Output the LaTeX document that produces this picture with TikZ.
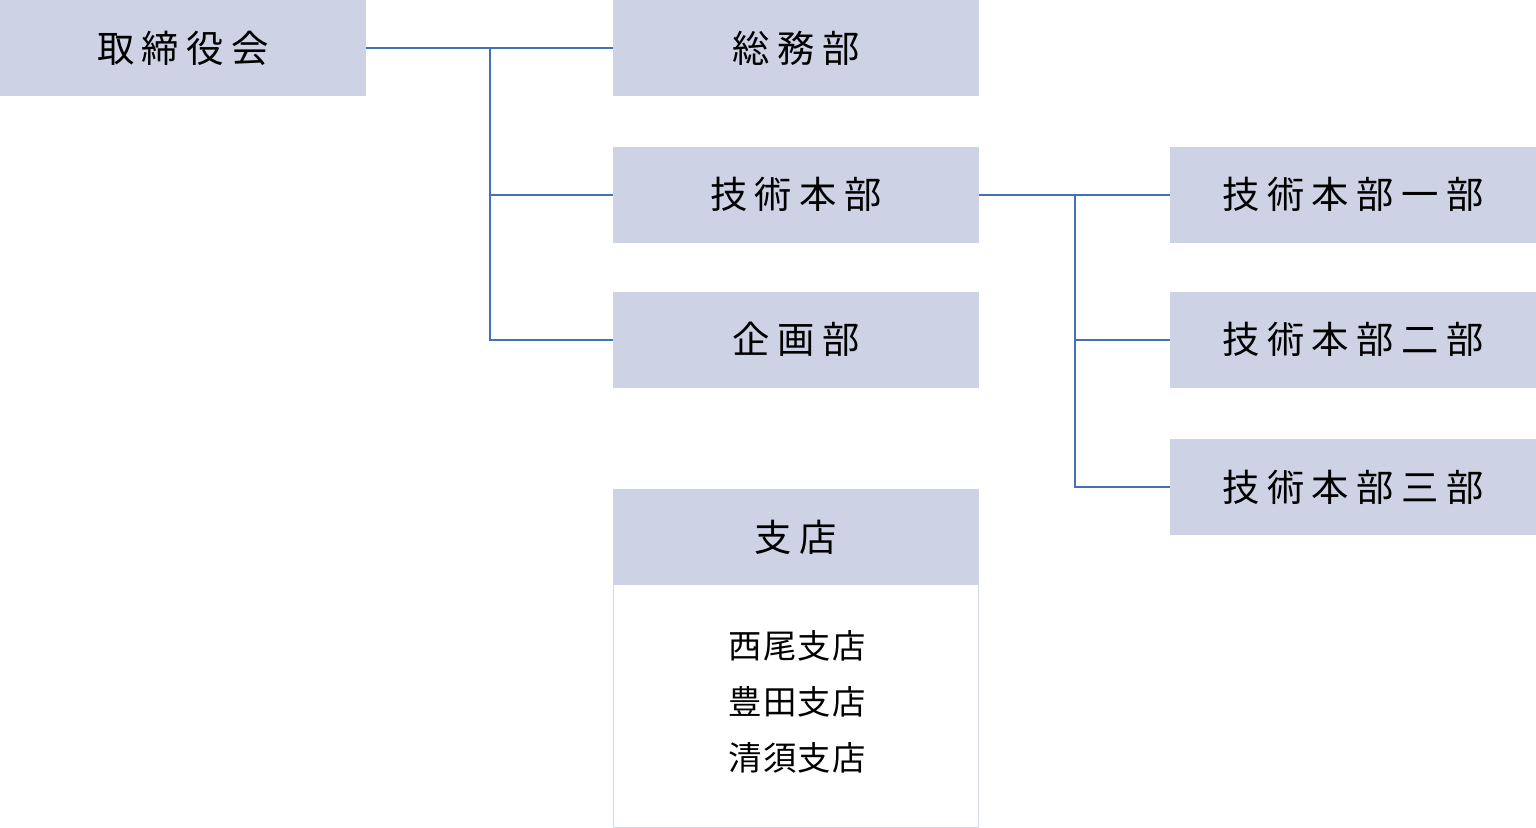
\documentclass[tikz,border=0pt]{standalone}
\usepackage{fontspec}
\usepackage{tikz}
\newfontfamily\jpbig[LetterSpace=20]{Noto Sans CJK JP}
\newfontfamily\jpsmall[LetterSpace=4]{Noto Sans CJK JP}
\definecolor{boxfill}{RGB}{205,211,229}
\definecolor{linkblue}{RGB}{68,112,184}
\definecolor{frameline}{RGB}{212,216,232}
\tikzset{
  orgbox/.style={fill=boxfill, draw=none, minimum width=274.5pt, minimum height=72pt, inner sep=0pt, font=\jpbig\fontsize{28pt}{30pt}\selectfont},
  link/.style={draw=linkblue, line width=1.5pt}
}

\begin{document}
\begin{tikzpicture}[x=0.75pt,y=0.75pt,yscale=-1,xscale=1]
\useasboundingbox (0,0) rectangle (1536,828);

%Shape: Rectangle [id:board] 
\node [orgbox] (board) at (183,48) {取締役会};
%Shape: Rectangle [id:soumu] 
\node [orgbox] (soumu) at (796,48) {総務部};
%Shape: Rectangle [id:gijutsu] 
\node [orgbox] (gijutsu) at (796,194.5) {技術本部};
%Shape: Rectangle [id:kikaku] 
\node [orgbox] (kikaku) at (796,339.5) {企画部};
%Shape: Rectangle [id:gijutsu1] 
\node [orgbox] (gijutsu1) at (1353,194.5) {技術本部一部};
%Shape: Rectangle [id:gijutsu2] 
\node [orgbox] (gijutsu2) at (1353,339.5) {技術本部二部};
%Shape: Rectangle [id:gijutsu3] 
\node [orgbox] (gijutsu3) at (1353,487) {技術本部三部};

%Shape: Rectangle [id:shitenlist] 
\node [draw=frameline, line width=1.1pt, fill=white, minimum width=273.5pt, minimum height=182pt, inner sep=0pt, font=\jpsmall\fontsize{25pt}{42pt}\selectfont, align=center] (shitenlist) at (796,706) {};
% Text Node
\node [font=\jpsmall\fontsize{25pt}{42pt}\selectfont, align=center, inner sep=0pt] (shitenitems) at (797,702) {西尾支店\\豊田支店\\清須支店};
%Shape: Rectangle [id:shiten] 
\node [orgbox] (shiten) at (796,537) {支店};

%Straight Lines [id:j1] 
\coordinate (j1) at (490,48);
\draw [link] (board.east) -- (soumu.west);
\draw [link] (j1) |- (gijutsu.west);
\draw [link] (j1) |- (kikaku.west);
%Straight Lines [id:j2] 
\coordinate (j2) at (1075,194.5);
\draw [link] (gijutsu.east) -- (gijutsu1.west);
\draw [link] (j2) |- (gijutsu2.west);
\draw [link] (j2) |- (gijutsu3.west);
\end{tikzpicture}
\end{document}
